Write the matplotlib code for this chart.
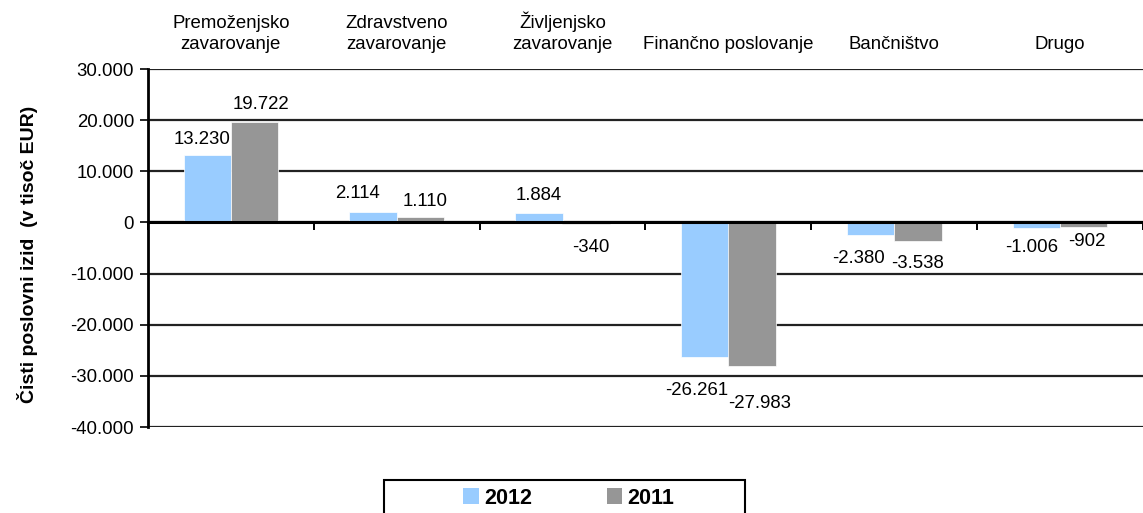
import matplotlib
matplotlib.use("Agg")
import matplotlib.pyplot as plt
from matplotlib.ticker import FuncFormatter, FixedLocator
from matplotlib.patches import Patch, Rectangle
import matplotlib.transforms as mtransforms

categories = ["Premoženjsko\nzavarovanje", "Zdravstveno\nzavarovanje", "Življenjsko\nzavarovanje",
              "Finančno poslovanje", "Bančništvo", "Drugo"]
series_names = ["2012", "2011"]
values_2012 = [13230, 2114, 1884, -26261, -2380, -1006]
values_2011 = [19722, 1110, -340, -27983, -3538, -902]
yticks = [30000, 20000, 10000, 0, -10000, -20000, -30000, -40000]
colors = ["#99CCFF", "#969696"]

# label placement tweaks (pixels: horizontal shift, gap from bar end)
label_shift_2012 = [(-5, 7), (-16, 10), (0, 9), (-8, 25), (-12, 15), (-5, 11)]
label_shift_2011 = [(6, 9), (5, 7), (5, 15), (8, 29), (0, 14), (3, 6)]

plt.rcParams['font.family'] = ['Liberation Sans', 'DejaVu Sans']

W, H = 1143, 513
fig = plt.figure(figsize=(W / 100, H / 100), dpi=100)
ax = fig.add_axes([148 / W, 1 - 427 / H, (1143 - 148) / W, (427 - 69) / H])

def fmt(v, pos=None):
    s = f"{abs(int(round(v))):,}".replace(",", ".")
    return ("-" if v < 0 else "") + s

n = len(categories)
xs = list(range(n))
bw = 0.287
off = 0.142
FS = 13.4
for vals, c, d, shifts in ((values_2012, colors[0], -off, label_shift_2012),
                           (values_2011, colors[1], off, label_shift_2011)):
    xp = [x + d for x in xs]
    ax.bar(xp, vals, width=bw, color=c, zorder=3, edgecolor="white", linewidth=0.5)
    for x, v, (dx, g) in zip(xp, vals, shifts):
        if v >= 0:
            ax.annotate(fmt(v), (x, v), xytext=(dx, g), textcoords="offset pixels",
                        ha="center", va="bottom", fontsize=FS)
        else:
            ax.annotate(fmt(v), (x, v), xytext=(dx, -g), textcoords="offset pixels",
                        ha="center", va="top", fontsize=FS)

ax.set_xlim(-0.5, 5.458)
ax.set_ylim(-40000, 30000)
ax.yaxis.set_major_locator(FixedLocator(yticks))
ax.yaxis.set_major_formatter(FuncFormatter(fmt))
ax.tick_params(axis="y", labelsize=FS, length=6, width=1.2, color="black", pad=4)
ax.grid(axis="y", color="#222222", linewidth=1.6, zorder=1)
ax.set_axisbelow(True)

ax.spines["top"].set_visible(False)
ax.spines["right"].set_visible(False)
ax.spines["left"].set_linewidth(2)
ax.spines["bottom"].set_position(("data", 0))
ax.spines["bottom"].set_linewidth(2.2)
ax.spines["bottom"].set_zorder(4)
ax.set_xticks([i + 0.5 for i in range(-1, n)])
ax.set_xticklabels([])
ax.tick_params(axis="x", direction="out", length=6, width=1.4, color="black")

trans = mtransforms.blended_transform_factory(ax.transData, ax.transAxes)
for i, cat in enumerate(categories):
    ax.text(i, 1.0 + 16 / (427 - 69), cat, transform=trans, ha="center", va="bottom",
            fontsize=FS, linespacing=1.27)

fig.text(28 / W, 1 - 254 / H, "Čisti poslovni izid  (v tisoč EUR)", rotation=90,
         ha="center", va="center", fontsize=14, fontweight="bold")

# legend box (partly below the figure edge, as in the original)
fig.patches.append(Rectangle((384 / W, -0.05), (745 - 384) / W, (1 - 480 / H) + 0.05,
                             transform=fig.transFigure, facecolor="white",
                             edgecolor="black", linewidth=1.5, zorder=5))
handles = [Patch(facecolor=colors[0], edgecolor="none"), Patch(facecolor=colors[1], edgecolor="none")]
leg = fig.legend(handles, series_names, loc="center", ncol=2,
                 bbox_to_anchor=(569 / W, 1 - 498 / H),
                 prop={"weight": "bold", "size": 15.5}, frameon=False,
                 handlelength=0.7, handleheight=0.8, handletextpad=0.25,
                 borderpad=0, borderaxespad=0, columnspacing=3.5)
leg.set_zorder(6)

fig.savefig("out.png", dpi=100)
